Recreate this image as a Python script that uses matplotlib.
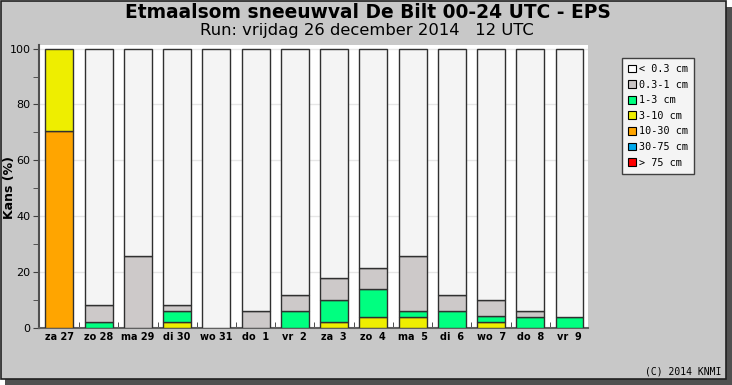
import matplotlib
matplotlib.use("Agg")
import matplotlib.pyplot as plt
from matplotlib.patches import Rectangle, Patch
import numpy as np

days = ["za 27", "zo 28", "ma 29", "di 30", "wo 31", "do  1", "vr  2",
        "za  3", "zo  4", "ma  5", "di  6", "wo  7", "do  8", "vr  9"]
# probabilities (%) per class, bottom (heaviest) to top
p_gt75 = [0, 0, 0, 0, 0, 0, 0, 0, 0, 0, 0, 0, 0, 0]
p_30_75 = [0, 0, 0, 0, 0, 0, 0, 0, 0, 0, 0, 0, 0, 0]
p_10_30 = [70.6, 0, 0, 0, 0, 0, 0, 0, 0, 0, 0, 0, 0, 0]
p_3_10 = [29.4, 0, 0, 2.0, 0, 0, 0, 2.0, 3.9, 3.9, 0, 2.0, 0, 0]
p_1_3 = [0, 2.0, 0, 3.9, 0, 0, 5.9, 7.8, 9.8, 2.0, 5.9, 2.0, 3.9, 3.9]
p_03_1 = [0, 5.9, 25.5, 2.0, 0, 5.9, 5.9, 7.8, 7.8, 19.6, 5.9, 5.9, 2.0, 0]
legend_labels = ["< 0.3 cm", "0.3-1 cm", "1-3 cm", "3-10 cm", "10-30 cm", "30-75 cm", "> 75 cm"]

W, H = 732, 385
fig = plt.figure(figsize=(W / 100, H / 100), dpi=100, facecolor="white")

# shadow and panel
fig.add_artist(Rectangle((5 / W, 0), 727 / W, 378 / H, transform=fig.transFigure,
                         facecolor="#505050", edgecolor="none", zorder=-3))
fig.add_artist(Rectangle((0.5 / W, 6 / H), 725 / W, 378.5 / H, transform=fig.transFigure,
                         facecolor="#c8c8c8", edgecolor="#202020", linewidth=1.2, zorder=-2))

ax = fig.add_axes([39 / W, (H - 327.5) / H, (588 - 39) / W, (327.5 - 45) / H])
ax.set_facecolor("white")

x = np.arange(len(days))
series = [p_gt75, p_30_75, p_10_30, p_3_10, p_1_3, p_03_1]
colors = ["#ff0000", "#00aaee", "#ffa500", "#eeee00", "#00ff80", "#cdc9c9"]
bottom = np.zeros(len(days))
for vals, c in zip(series, colors):
    v = np.array(vals, dtype=float)
    mask = v > 0
    ax.bar(x[mask], v[mask], bottom=bottom[mask], width=0.71, color=c,
           edgecolor="#303030", linewidth=1.0, zorder=3)
    bottom += v
rest = 100 - bottom
mask = rest > 0.01
ax.bar(x[mask], rest[mask], bottom=bottom[mask], width=0.71, color="#f4f4f4",
       edgecolor="#303030", linewidth=1.0, zorder=3)

ax.set_xlim(-0.52, 13.47)
ax.set_ylim(0, 101.3)
ax.set_yticks(np.arange(0, 101, 20))
ax.set_yticks(np.arange(10, 100, 20), minor=True)
ax.yaxis.grid(True, color="#e6e6e6", linewidth=1, zorder=0)
ax.set_axisbelow(True)
ax.tick_params(axis="y", which="both", direction="out", length=4, color="#404040",
               labelsize=8, pad=2)
ax.set_xticks(x)
ax.set_xticklabels(days, fontweight="bold", fontsize=7)
ax.tick_params(axis="x", which="major", length=0, pad=3)
ax.set_xticks(x[:-1] + 0.5, minor=True)
ax.tick_params(axis="x", which="minor", direction="in", length=4, color="#303030")
for s in ["top", "right"]:
    ax.spines[s].set_visible(False)
ax.spines["left"].set_color("#505050")
ax.spines["bottom"].set_color("#606060")
ax.spines["left"].set_linewidth(1.5)
ax.spines["bottom"].set_linewidth(1.5)

fig.text(10 / W, 1 - 188 / H, "Kans (%)", rotation=90, ha="center", va="center",
         fontweight="bold", fontsize=9)

fig.text(368 / W, 1 - 12 / H, "Etmaalsom sneeuwval De Bilt 00-24 UTC - EPS",
         ha="center", va="center", fontsize=13.4, fontweight="bold")
fig.text(367 / W, 1 - 30 / H, "Run: vrijdag 26 december 2014   12 UTC",
         ha="center", va="center", fontsize=11.8)

leg_colors = ["#ffffff", "#c8c4c4", "#00ff80", "#eeee00", "#ffa500", "#00aaee", "#ff0000"]
handles = [Patch(facecolor=c, edgecolor="black", linewidth=0.8) for c in leg_colors]
leg = fig.legend(handles, legend_labels, loc="upper left",
                 bbox_to_anchor=(622 / W, 1 - 58 / H), bbox_transform=fig.transFigure,
                 prop={"family": "DejaVu Sans Mono", "size": 7.3}, frameon=True,
                 fancybox=False, edgecolor="#404040", facecolor="#f4f4f4", framealpha=1,
                 handlelength=0.8, handleheight=0.8, handletextpad=0.3,
                 labelspacing=0.55, borderpad=0.6, borderaxespad=0)
leg.get_frame().set_linewidth(1.0)

fig.text(721 / W, 1 - 371 / H, "(C) 2014 KNMI", ha="right", va="center",
         fontsize=7, family="DejaVu Sans Mono")

fig.savefig("out.png", dpi=100, facecolor="white")
